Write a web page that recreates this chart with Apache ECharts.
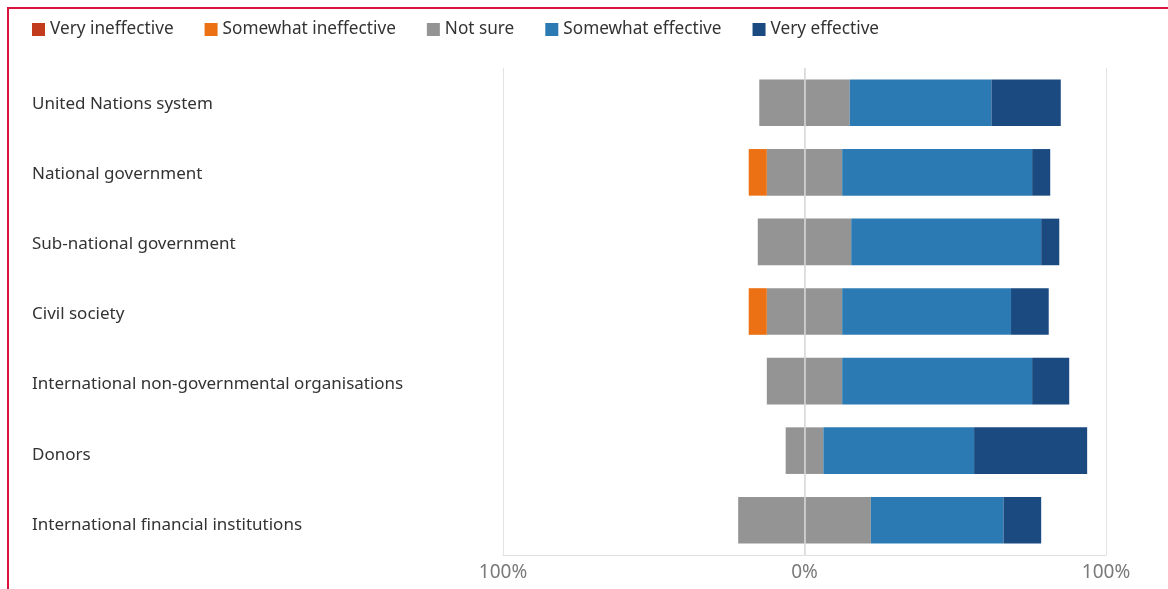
<!DOCTYPE html>
<html>
<head>
<meta charset="utf-8">
<script src="https://cdn.jsdelivr.net/npm/echarts@6/dist/echarts.min.js"></script>
<style>
  html, body { margin: 0; padding: 0; background: #fff; overflow: hidden; }
  #frame { position: absolute; left: 7px; top: 7px; width: 1300px; height: 700px;
           border-top: 2px solid #D9143F; border-left: 2px solid #D9143F; }
  #chart { position: absolute; left: 0; top: 0; width: 1168px; height: 589px; }
</style>
</head>
<body>
<div id="frame"></div>
<div id="chart"></div>
<script>
const categories = ['United Nations system', 'National government', 'Sub-national government',
  'Civil society', 'International non-governmental organisations', 'Donors',
  'International financial institutions'];
const veryIneffective     = [0, 0, 0, 0, 0, 0, 0];
const somewhatIneffective = [0, 6, 0, 6, 0, 0, 0];
const notSure             = [30, 25, 31, 25, 25, 12.5, 44];
const somewhatEffective   = [47, 63, 63, 56, 63, 50, 44];
const veryEffective       = [23, 6, 6, 12.5, 12.3, 37.5, 12.5];
const tickValues = [-100, 0, 100];

const colors = {
  vi: '#C23B1C', si: '#EC7114', ns: '#949494', se: '#2C7AB3', ve: '#1A4A80'
};
const font = '"Noto Sans", "Open Sans", sans-serif';

const base = { type: 'bar', stack: 'total', barWidth: '67%', emphasis: { disabled: true } };

const chart = echarts.init(document.getElementById('chart'));
chart.setOption({
  animation: false,
  textStyle: { fontFamily: font },
  legend: {
    left: 32, top: 21, padding: 0, itemWidth: 13, itemHeight: 13, itemGap: 31,
    icon: 'rect',
    textStyle: { fontSize: 17.2, color: '#333', fontFamily: font },
    data: ['Very ineffective', 'Somewhat ineffective', 'Not sure', 'Somewhat effective', 'Very effective']
  },
  grid: [
    { left: 503, right: 62, top: 68, bottom: 34, containLabel: false },
    { left: 503, right: 62, top: 69, bottom: 29, containLabel: false }
  ],
  xAxis: [{
    type: 'value', min: -100, max: 100, interval: 100, gridIndex: 0,
    axisLine: { show: true, lineStyle: { color: '#e0e0e0', width: 1 } },
    axisTick: { show: false },
    splitLine: { show: true, lineStyle: { color: '#e3e3e3', width: 1 } },
    axisLabel: {
      fontSize: 19, color: '#7a7a7a', margin: 8, fontFamily: font,
      formatter: v => tickValues.includes(v) ? Math.abs(v) + '%' : ''
    }
  }, {
    type: 'value', min: -100, max: 100, interval: 100, gridIndex: 1, show: false
  }],
  yAxis: [{
    type: 'category', data: categories, inverse: true, gridIndex: 0,
    axisLine: { show: false }, axisTick: { show: false },
    axisLabel: { show: false }
  }, {
    type: 'category', data: categories, inverse: true, gridIndex: 1,
    axisLine: { show: false }, axisTick: { show: false }, splitLine: { show: false },
    axisLabel: { align: 'left', margin: 471, fontSize: 17, color: '#333', fontFamily: font }
  }],
  series: [
    Object.assign({}, base, { name: 'Not sure', data: notSure.map(v => -v / 2),
      itemStyle: { color: colors.ns } }),
    Object.assign({}, base, { name: 'Somewhat ineffective', data: somewhatIneffective.map(v => -v),
      itemStyle: { color: colors.si } }),
    Object.assign({}, base, { name: 'Very ineffective', data: veryIneffective.map(v => -v),
      itemStyle: { color: colors.vi } }),
    Object.assign({}, base, { name: 'Not sure', data: notSure.map(v => v / 2),
      itemStyle: { color: colors.ns } }),
    Object.assign({}, base, { name: 'Somewhat effective', data: somewhatEffective,
      itemStyle: { color: colors.se } }),
    Object.assign({}, base, { name: 'Very effective', data: veryEffective,
      itemStyle: { color: colors.ve },
      markLine: {
        silent: true, symbol: 'none', label: { show: false }, z: 10,
        lineStyle: { color: '#d9d9d9', width: 1.5, type: 'solid' },
        data: [{ xAxis: 0 }]
      } })
  ]
});
</script>
</body>
</html>
